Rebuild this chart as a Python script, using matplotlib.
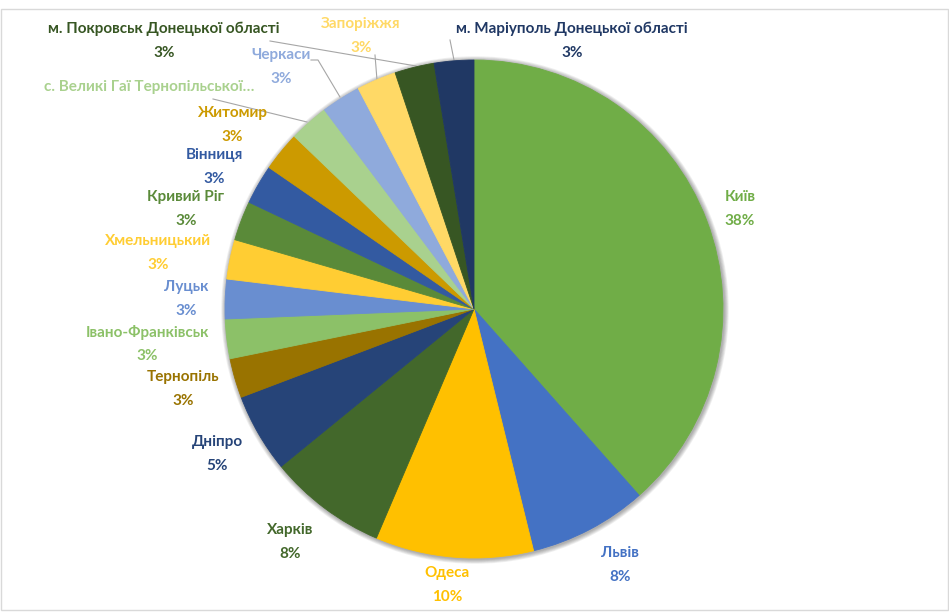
import numpy as np
import matplotlib
matplotlib.use("Agg")
import matplotlib.pyplot as plt
from matplotlib.patches import Circle, Rectangle

plt.rcParams['font.family'] = ['Lato', 'DejaVu Sans']

# data: number of mentions per city
cities = ['Київ', 'Львів', 'Одеса', 'Харків', 'Дніпро', 'Тернопіль',
          'Івано-Франківськ', 'Луцьк', 'Хмельницький', 'Кривий Ріг',
          'Вінниця', 'Житомир', 'с. Великі Гаї Тернопільської…', 'Черкаси',
          'Запоріжжя', 'м. Покровськ Донецької області',
          'м. Маріуполь Донецької області']
counts = [15, 3, 4, 3, 2, 1, 1, 1, 1, 1, 1, 1, 1, 1, 1, 1, 1]
colors = ['#70AD47', '#4472C4', '#FFC000', '#43682B', '#264478', '#997300',
          '#8CC168', '#698ED0', '#FFCD33', '#5A8A39', '#335AA1', '#CC9A00',
          '#A9D18E', '#8FAADC', '#FFD966', '#375623', '#203864']
show_pct = [True] * 12 + [False] + [True] * 4

W, H = 949, 614
# label centre positions in pixels (x, y of first line)
label_pos = [(740, 197), (620, 553), (447, 573), (290, 530), (217, 442),
             (183, 377), (147, 332), (186, 287), (158, 241), (186, 197),
             (214, 155), (232, 113), (149, 87), (281, 55), (361, 24),
             (164, 29), (572, 29)]
leaders = {12: [(213, 99), (307, 122)],
           13: [(311, 60), (318, 60), (340, 97)],
           14: [(375, 55), (377, 80)],
           15: [(270, 41), (416, 66)],
           16: [(450, 40), (454, 60)]}

cx, cy, r = 474, 309, 249


def fy(y):
    return H - y


fig = plt.figure(figsize=(W / 100, H / 100), dpi=100)
ax = fig.add_axes([0, 0, 1, 1])

# soft shadow around the pie
for k in range(6, 0, -1):
    ax.add_patch(Circle((cx + 1, fy(cy) - 1), r + k * 0.8, color='#000000',
                        alpha=0.06, lw=0, zorder=0))

wedges, _ = ax.pie(counts, colors=colors, startangle=90, counterclock=False,
                   center=(cx, fy(cy)), radius=r, frame=True,
                   wedgeprops=dict(linewidth=0.6))
for w_ in wedges:
    w_.set_edgecolor(w_.get_facecolor())
    w_.set_zorder(2)

total = sum(counts)
for i, name in enumerate(cities):
    x, y = label_pos[i]
    ax.text(x, fy(y), name, color=colors[i], fontsize=11, fontweight='bold',
            ha='center', va='center', zorder=3)
    if show_pct[i]:
        pct = int(np.floor(counts[i] / total * 100 + 0.5))
        ax.text(x, fy(y + 24), f'{pct}%', color=colors[i], fontsize=11,
                fontweight='bold', ha='center', va='center', zorder=3)

for pts in leaders.values():
    xs = [p[0] for p in pts]
    ys = [fy(p[1]) for p in pts]
    ax.plot(xs, ys, color='#A6A6A6', lw=0.8, zorder=1)

# chart frame
ax.add_patch(Rectangle((1, fy(610)), W - 2, 601, fill=False,
                       edgecolor='#D9D9D9', lw=1, zorder=0))

ax.set_xlim(0, W)
ax.set_ylim(0, H)
ax.set_aspect('equal')
ax.axis('off')

fig.savefig('out.png', dpi=100)
